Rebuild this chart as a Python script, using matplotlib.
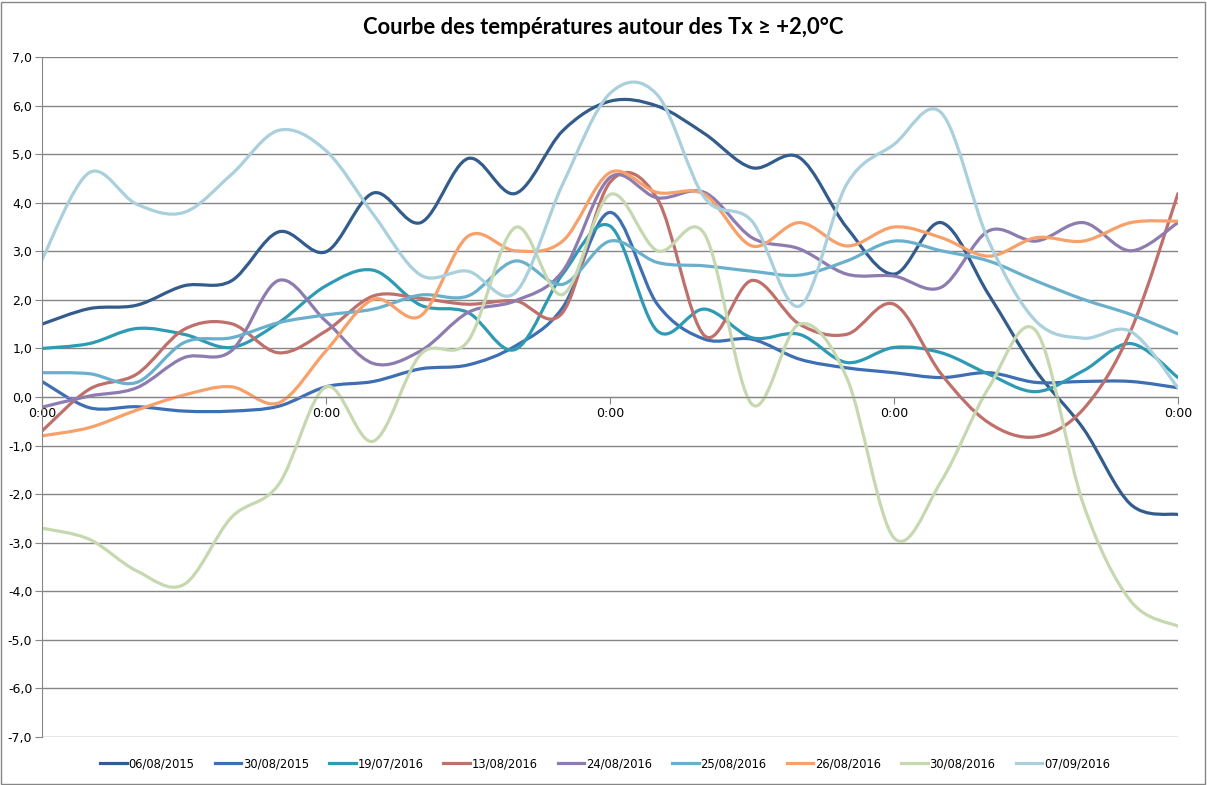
import numpy as np
import matplotlib
matplotlib.use("Agg")
import matplotlib.pyplot as plt
from matplotlib.path import Path
from matplotlib.patches import PathPatch
from matplotlib.lines import Line2D

# readings every 4 hours over 4 days (25 points)
hours = list(range(0, 97, 4))

labels = ["06/08/2015", "30/08/2015", "19/07/2016", "13/08/2016", "24/08/2016",
          "25/08/2016", "26/08/2016", "30/08/2016", "07/09/2016"]
colors = ["#335C8C", "#3E6FB3", "#2E9AB3", "#C0706B", "#8E7CB0",
          "#6AB0CC", "#F8A06A", "#C6D8B0", "#A9D0DC"]

t_06_08_2015 = [1.50, 1.82, 1.89, 2.29, 2.39, 3.40, 2.99, 4.20, 3.59, 4.91, 4.19, 5.48, 6.09,
                5.99, 5.42, 4.72, 4.93, 3.49, 2.53, 3.59, 2.11, 0.54, -0.65, -2.21, -2.42]
t_30_08_2015 = [0.32, -0.22, -0.20, -0.29, -0.29, -0.19, 0.21, 0.32, 0.58, 0.66, 1.05, 1.84, 3.80,
                1.91, 1.19, 1.19, 0.78, 0.60, 0.50, 0.40, 0.50, 0.30, 0.32, 0.32, 0.19]
t_19_07_2016 = [1.00, 1.10, 1.41, 1.29, 1.02, 1.53, 2.29, 2.61, 1.89, 1.74, 0.98, 2.53, 3.52,
                1.36, 1.81, 1.22, 1.29, 0.71, 1.02, 0.91, 0.47, 0.11, 0.54, 1.10, 0.40]
t_13_08_2016 = [-0.70, 0.16, 0.47, 1.39, 1.51, 0.91, 1.36, 2.08, 2.03, 1.91, 1.98, 1.74, 4.42,
                4.08, 1.26, 2.40, 1.50, 1.29, 1.91, 0.47, -0.53, -0.82, -0.25, 1.36, 4.19]
t_24_08_2016 = [-0.21, 0.02, 0.19, 0.81, 0.95, 2.40, 1.56, 0.69, 0.95, 1.74, 1.98, 2.59, 4.52,
                4.10, 4.21, 3.28, 3.05, 2.53, 2.49, 2.26, 3.42, 3.21, 3.59, 3.01, 3.59]
t_25_08_2016 = [0.50, 0.48, 0.30, 1.12, 1.22, 1.53, 1.69, 1.81, 2.10, 2.08, 2.80, 2.32, 3.21,
                2.77, 2.70, 2.59, 2.51, 2.80, 3.21, 3.01, 2.80, 2.39, 2.01, 1.70, 1.30]
t_26_08_2016 = [-0.80, -0.63, -0.27, 0.04, 0.21, -0.12, 0.95, 2.01, 1.67, 3.31, 3.01, 3.21, 4.62,
                4.21, 4.17, 3.11, 3.59, 3.11, 3.50, 3.28, 2.90, 3.28, 3.21, 3.59, 3.62]
t_30_08_2016 = [-2.70, -2.93, -3.58, -3.86, -2.48, -1.80, 0.21, -0.91, 0.88, 1.15, 3.49, 2.11, 4.17,
                3.01, 3.35, -0.15, 1.50, 0.40, -2.90, -1.73, 0.19, 1.36, -2.21, -4.20, -4.72]
t_07_09_2016 = [2.83, 4.62, 3.97, 3.80, 4.58, 5.49, 5.07, 3.76, 2.51, 2.59, 2.15, 4.38, 6.25,
                6.22, 4.10, 3.62, 1.87, 4.38, 5.20, 5.85, 3.21, 1.56, 1.21, 1.35, 0.19]

series = [t_06_08_2015, t_30_08_2015, t_19_07_2016, t_13_08_2016, t_24_08_2016,
          t_25_08_2016, t_26_08_2016, t_30_08_2016, t_07_09_2016]


def smooth_path(x, y):
    # Catmull-Rom style bezier, like the "smoothed line" option of spreadsheet charts
    p = np.column_stack([x, y]).astype(float)
    pts = np.vstack([p[0], p, p[-1]])
    verts = [p[0]]
    codes = [Path.MOVETO]
    for i in range(1, len(pts) - 2):
        c1 = pts[i] + (pts[i + 1] - pts[i - 1]) / 6.0
        c2 = pts[i + 1] - (pts[i + 2] - pts[i]) / 6.0
        verts += [c1, c2, pts[i + 1]]
        codes += [Path.CURVE4] * 3
    return Path(verts, codes)


def main():
    fig = plt.figure(figsize=(12.07, 7.85), dpi=100)
    ax = fig.add_axes([42 / 1207, 1 - 737 / 785, 1136 / 1207, 680 / 785])

    for vals, col in zip(series, colors):
        patch = PathPatch(smooth_path(hours, vals), facecolor="none", edgecolor=col,
                          lw=2.3, capstyle="round", joinstyle="round")
        ax.add_patch(patch)

    ax.set_xlim(0, 96)
    ax.set_ylim(-7, 7)
    yt = np.arange(-7, 8, 1)
    ax.set_yticks(yt)
    ax.set_yticklabels([("%.1f" % v).replace(".", ",") for v in yt])
    ax.set_xticks([0, 24, 48, 72, 96])
    ax.set_xticklabels(["0:00"] * 5)
    ax.grid(axis="y", color="#868686", lw=1.0)
    ax.set_axisbelow(True)

    for s in ["top", "right"]:
        ax.spines[s].set_visible(False)
    ax.spines["bottom"].set_position(("data", 0))
    ax.spines["bottom"].set_color("#868686")
    ax.spines["left"].set_color("#868686")
    ax.tick_params(axis="y", length=5, color="#868686", labelsize=9, pad=2)
    ax.tick_params(axis="x", length=5, color="#868686", labelsize=9, pad=2)

    fig.text(0.5, 1 - 27 / 785, "Courbe des températures autour des Tx ≥ +2,0°C",
             ha="center", va="center", fontsize=15.8, fontweight="bold", family="Lato")

    handles = [Line2D([], [], color=c, lw=2.3) for c in colors]
    fig.legend(handles, labels, loc="center", bbox_to_anchor=(605 / 1207, 1 - 764 / 785),
               ncol=9, frameon=False, fontsize=8.3, handlelength=2.3, handletextpad=0.15,
               columnspacing=1.75)

    # outer chart border
    fig.patches.append(plt.Rectangle((0.001, 0.001), 0.997, 0.997, transform=fig.transFigure,
                                     fill=False, edgecolor="#868686", lw=1.0))

    fig.savefig("out.png", dpi=100)


if __name__ == '__main__':
    main()
